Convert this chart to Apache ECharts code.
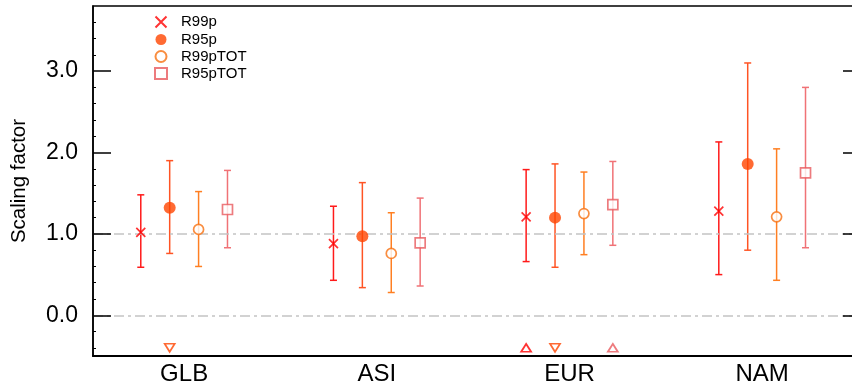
<!DOCTYPE html>
<html><head><meta charset="utf-8">
<script src="https://cdn.jsdelivr.net/npm/echarts@6/dist/echarts.min.js"></script>
<style>html,body{margin:0;padding:0;background:#fff}#c{width:852px;height:387px}</style>
</head><body><div id="c"></div>
<script>
// ---- data ----
const categories = ['GLB', 'ASI', 'EUR', 'NAM'];
const yTicks = [0, 1, 2, 3];
const refLines = [0, 1];
const seriesNames = ['R99p', 'R95p', 'R99pTOT', 'R95pTOT'];

const r99p      = [1.02, 0.88, 1.21, 1.28];
const r99pLow   = [0.59, 0.43, 0.66, 0.50];
const r99pHigh  = [1.48, 1.34, 1.79, 2.13];

const r95p      = [1.32, 0.97, 1.20, 1.86];
const r95pLow   = [0.76, 0.34, 0.59, 0.80];
const r95pHigh  = [1.90, 1.63, 1.86, 3.10];

const r99pTOT     = [1.055, 0.76, 1.25, 1.21];
const r99pTOTLow  = [0.60, 0.28, 0.745, 0.43];
const r99pTOTHigh = [1.52, 1.26, 1.76, 2.045];

const r95pTOT     = [1.30, 0.89, 1.36, 1.75];
const r95pTOTLow  = [0.83, 0.36, 0.86, 0.83];
const r95pTOTHigh = [1.78, 1.44, 1.89, 2.80];

// detection flags drawn near the bottom of the panel
const flagLevel = -0.4;
const r99pFlag    = [null, null, 'up', null];
const r95pFlag    = ['down', null, 'down', null];
const r99pTOTFlag = [null, null, null, null];
const r95pTOTFlag = [null, null, 'up', null];

// ---- styling ----
const offsets = [-0.225, -0.075, 0.075, 0.225];
const markColors = ['#ff0000', '#ff4500', '#f77010', '#e85a5e'];
const barColors  = ['#ff1a1a', '#ff5424', '#ff7f22', '#f07276'];
const FONT = 'Liberation Sans, Arial, Helvetica, sans-serif';

function errorBars(idx, low, high) {
  const color = barColors[idx];
  return {
    type: 'custom', name: seriesNames[idx] + ' range', silent: true, z: 3,
    data: low.map((l, i) => [i + 1 + offsets[idx], l, high[i]]),
    encode: { x: 0, y: [1, 2] },
    renderItem(params, api) {
      const x = api.value(0);
      const lo = api.coord([x, api.value(1)]);
      const hi = api.coord([x, api.value(2)]);
      const cap = 3.5;
      const st = { stroke: color, lineWidth: 1.5 };
      return { type: 'group', children: [
        { type: 'line', shape: { x1: lo[0], y1: lo[1], x2: hi[0], y2: hi[1] }, style: st },
        { type: 'line', shape: { x1: lo[0] - cap, y1: lo[1], x2: lo[0] + cap, y2: lo[1] }, style: st },
        { type: 'line', shape: { x1: hi[0] - cap, y1: hi[1], x2: hi[0] + cap, y2: hi[1] }, style: st }
      ]};
    }
  };
}

const symbolDefs = [
  { symbol: 'path://M0,0L10,10M0,10L10,0', size: 9, itemStyle: { color: 'none', borderColor: markColors[0], borderWidth: 1.7 } },
  { symbol: 'circle', size: 12, itemStyle: { color: markColors[1], borderWidth: 0 } },
  { symbol: 'circle', size: 10, itemStyle: { color: '#fff', borderColor: markColors[2], borderWidth: 1.7 } },
  { symbol: 'rect', size: 10, itemStyle: { color: '#fff', borderColor: markColors[3], borderWidth: 1.7 } }
];

function points(idx, vals) {
  const d = symbolDefs[idx];
  return {
    type: 'scatter', name: seriesNames[idx], z: 5,
    symbol: d.symbol, symbolSize: d.size, itemStyle: d.itemStyle,
    data: vals.map((v, i) => [i + 1 + offsets[idx], v])
  };
}

function flags(idx, fl) {
  return {
    type: 'scatter', name: seriesNames[idx] + ' flag', z: 5,
    symbol: 'triangle', symbolSize: [10, 8],
    itemStyle: { color: '#fff', borderColor: markColors[idx], borderWidth: 1.7 },
    data: fl.map((f, i) => f ? { value: [i + 1 + offsets[idx], flagLevel], symbolRotate: f === 'down' ? 180 : 0 } : null)
            .filter(x => x)
  };
}

const allLows = [r99pLow, r95pLow, r99pTOTLow, r95pTOTLow];
const allHighs = [r99pHigh, r95pHigh, r99pTOTHigh, r95pTOTHigh];
const allVals = [r99p, r95p, r99pTOT, r95pTOT];
const allFlags = [r99pFlag, r95pFlag, r99pTOTFlag, r95pTOTFlag];

const series = [{
  type: 'line', name: 'ref', data: [], z: 1, silent: true,
  markLine: {
    silent: true, symbol: 'none', label: { show: false },
    lineStyle: { color: '#c4c4c4', width: 1.5, type: [10, 4, 3, 4] },
    data: refLines.map(v => ({ yAxis: v }))
  }
}];
for (let k = 0; k < 4; k++) series.push(errorBars(k, allLows[k], allHighs[k]));
for (let k = 0; k < 4; k++) series.push(points(k, allVals[k]));
for (let k = 0; k < 4; k++) if (allFlags[k].some(f => f)) series.push(flags(k, allFlags[k]));

const chart = echarts.init(document.getElementById('c'), null, { renderer: 'canvas' });
chart.setOption({
  animation: false,
  backgroundColor: '#fff',
  textStyle: { fontFamily: FONT },
  grid: { left: 93, top: 6, width: 768, height: 350, show: true, borderColor: '#000', borderWidth: 1.5,
          containLabel: false, outerBoundsMode: 'none' },
  legend: {
    data: seriesNames, orient: 'vertical', left: 148, top: 9,
    itemWidth: 12, itemHeight: 11, itemGap: 2,
    textStyle: { fontSize: 15, color: '#000', fontFamily: FONT, padding: [0, 0, 0, 9] }
  },
  xAxis: {
    type: 'value', min: 0.527, max: 4.513,
    axisLine: { show: true, onZero: false, lineStyle: { color: '#000', width: 2 } },
    axisTick: { show: false },
    splitLine: { show: false },
    axisLabel: {
      customValues: categories.map((c, i) => i + 1),
      formatter: v => categories[Math.round(v) - 1] || '',
      fontSize: 24, color: '#000', margin: 6, fontFamily: FONT
    }
  },
  yAxis: [{
    type: 'value', min: -0.5, max: 3.8, z: 6,
    name: 'Scaling factor', nameLocation: 'middle', nameGap: 63,
    nameTextStyle: { fontSize: 20.5, color: '#000', fontFamily: FONT },
    axisLine: { show: true, lineStyle: { color: '#000', width: 1.5 } },
    axisTick: { show: true, inside: true, length: 18, customValues: yTicks, lineStyle: { color: '#000', width: 1.5 } },
    minorTick: { show: true, splitNumber: 5, length: 3, lineStyle: { color: '#000', width: 1 } },
    splitLine: { show: false },
    axisLabel: { customValues: yTicks, formatter: v => v.toFixed(1), fontSize: 23, color: '#000', margin: 15, fontFamily: FONT }
  }, {
    type: 'value', min: -0.5, max: 3.8, position: 'right', z: 6,
    axisLine: { show: true, lineStyle: { color: '#000', width: 1.5 } },
    axisTick: { show: true, inside: true, length: 18, customValues: yTicks, lineStyle: { color: '#000', width: 1.5 } },
    splitLine: { show: false },
    axisLabel: { show: false }
  }],
  series: series
});
</script></body></html>
